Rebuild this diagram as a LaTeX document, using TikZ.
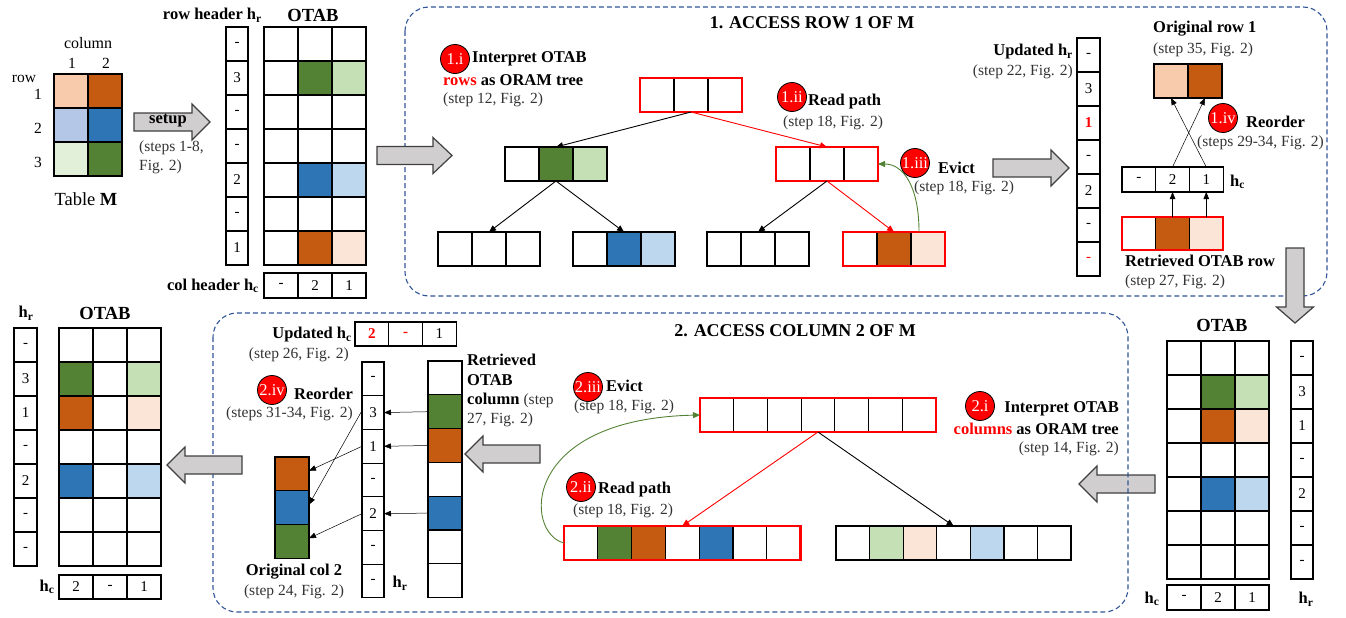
\documentclass[tikz,border=0pt]{standalone}
\usepackage{fontspec}
\setmainfont{Liberation Serif}
\usetikzlibrary{arrows.meta}
\definecolor{cOr}{HTML}{C55A11}
\definecolor{cPe}{HTML}{F8CBAD}
\definecolor{cPl}{HTML}{FBE5D6}
\definecolor{cBl}{HTML}{2E75B6}
\definecolor{cBm}{HTML}{B4C7E7}
\definecolor{cBs}{HTML}{BDD7EE}
\definecolor{cGr}{HTML}{548235}
\definecolor{cGl}{HTML}{C5E0B4}
\definecolor{cGv}{HTML}{E2F0D9}
\definecolor{cArr}{HTML}{D0CECE}
\definecolor{cDash}{HTML}{2F5597}
\definecolor{cRed}{HTML}{FF0000}
\newcommand\fsR{\fontsize{15.5}{18}\selectfont}
\newcommand\fsB{\fontsize{16.5}{19}\selectfont\bfseries}
\newcommand\fsT{\fontsize{18}{20}\selectfont\bfseries}
\newcommand\fsN{\fontsize{15}{15}\selectfont}
\tikzset{
  cell/.style={draw=black, line width=1.1pt, inner sep=0pt, outer sep=0pt, anchor=north west},
  nframe/.style={draw=black, line width=2.5pt, fill=none, inner sep=0pt, outer sep=0pt, anchor=north west},
  rnframe/.style={nframe, draw=cRed},
  badge/.style={circle, fill=cRed, draw=black, line width=0.8pt, minimum size=29pt, inner sep=0pt, text=white, font=\fontsize{16.5}{16.5}\selectfont},
  txt/.style={font=\fsR, inner sep=0pt, text=black!80},
  btxt/.style={font=\fsB, inner sep=0pt},
  ttl/.style={font=\fsT, inner sep=0pt},
  conn/.style={-{Triangle[length=7pt,width=6pt]}, line width=0.9pt},
  tarr/.style={-{Triangle[length=7pt,width=5.5pt]}, line width=0.5pt},
  gArrow/.style={draw=black!75, fill=cArr, line width=1.2pt, line join=miter},
  dbox/.style={draw=cDash, dash pattern=on 5pt off 3pt, line width=1.1pt, rounded corners=24pt},
}
\newcommand\hcells[6]{%
  \foreach \ff [count=\ii] in {#6} {%
    \node[cell, fill=\ff, minimum width=#4pt, minimum height=#5pt] (#1-\ii) at ({#2+(\ii-1)*#4},#3) {};
  }%
}
\newcommand\vcolfill[6]{%
  \foreach \ff [count=\ii] in {#6} {%
    \node[cell, fill=\ff, minimum width=#4pt, minimum height=#5pt] (#1-\ii) at (#2,{#3+(\ii-1)*#5}) {};
  }%
}
\newcommand\hrowbox[8]{%
  \hcells{#1}{#2}{#3}{#4}{#5}{#7}%
  \node[#8, minimum width={#6*#4*1pt}, minimum height=#5pt] (#1) at (#2,#3) {};
}
\newcommand\htext[6]{%
  \foreach \vv [count=\ii] in {#6} {%
    \node[cell, fill=white, font=\fsN, minimum width=#4pt, minimum height=#5pt] (#1-\ii) at ({#2+(\ii-1)*#4},#3) {\vv};
  }%
}
\newcommand\vtext[6]{%
  \foreach \vv [count=\ii] in {#6} {%
    \node[cell, fill=white, font=\fsN, minimum width=#4pt, minimum height=#5pt] (#1-\ii) at (#2,{#3+(\ii-1)*#5}) {\vv};
  }%
}
\newcommand\otab[4]{%
  \foreach \qa/\qb/\qc [count=\rr] in {#4} {%
    \node[cell, fill=\qa, minimum size=34pt] (#1-\rr-1) at (#2,{#3+(\rr-1)*34}) {};
    \node[cell, fill=\qb, minimum size=34pt] (#1-\rr-2) at ({#2+34},{#3+(\rr-1)*34}) {};
    \node[cell, fill=\qc, minimum size=34pt] (#1-\rr-3) at ({#2+68},{#3+(\rr-1)*34}) {};
  }%
}
\newcommand\garrH[4]{\draw[gArrow] (#1,{#4-9}) -- (#2,{#4-9}) -- (#2,{#4-18}) -- (#3,#4) -- (#2,{#4+18}) -- (#2,{#4+9}) -- (#1,{#4+9}) -- cycle;}
\newcommand\garrV[4]{\draw[gArrow] ({#1-9},#2) -- ({#1-9},#3) -- ({#1-18.5},#3) -- (#1,#4) -- ({#1+18.5},#3) -- ({#1+9},#3) -- ({#1+9},#2) -- cycle;}

\begin{document}
\begin{tikzpicture}[x=1pt,y=-1pt]
\useasboundingbox (0,0) rectangle (1346,618);

% ---------- Table M ----------
\node[txt, text=black, font=\fontsize{16}{18}\selectfont] (colLab) at (88,43) {column};
\node[txt, text=black] (cn1) at (72,63) {1};
\node[txt, text=black] (cn2) at (106,63) {2};
\node[txt, text=black] (rowLab) at (24,79) {row};
\node[txt, text=black] (rn1) at (38,94) {1};
\node[txt, text=black] (rn2) at (38,128) {2};
\node[txt, text=black] (rn3) at (38,162) {3};
\hcells{tmA}{54}{74}{34}{34}{cPe,cOr}
\hcells{tmB}{54}{108}{34}{34}{cBm,cBl}
\hcells{tmC}{54}{142}{34}{34}{cGv,cGr}
\node[txt, text=black, font=\fontsize{18.5}{20}\selectfont] (tabM) at (86,199) {Table \textbf{M}};

% setup arrow
\garrH{134}{192}{210}{122}
\node[btxt] (setupL) at (168,121) {setup};
\node[txt, anchor=west] (setupS1) at (139,148) {(steps 1-8,};
\node[txt, anchor=west] (setupS2) at (139,167) {Fig. 2)};

% ---------- initial OTAB ----------
\node[btxt, anchor=east] (rhLab) at (262,15) {row header h\textsubscript{r}};
\node[ttl, font=\fontsize{18.5}{20}\selectfont\bfseries] (otabA) at (313,15) {OTAB};
\vtext{hrA}{226}{27}{22}{34}{-,3,-,-,2,-,1}
\otab{otA}{264}{27}{white/white/white, white/cGr/cGl, white/white/white, white/white/white, white/cBl/cBs, white/white/white, white/cOr/cPl}
\htext{hcA}{264}{273}{34}{25}{-,2,1}
\node[btxt, anchor=east] (chLab) at (259,286) {col header h\textsubscript{c}};

% ---------- Box 1 ----------
\draw[dbox] (405,7) rectangle (1327,296);
\node[ttl] (title1) at (812,23) {1. ACCESS ROW 1 OF M};
\garrH{377}{433}{452}{155.5}

\hrowbox{tR}{640}{78}{34}{34}{3}{white,white,white}{rnframe}
\hrowbox{tL}{505}{147}{34}{34}{3}{white,cGr,cGl}{nframe}
\hrowbox{tRt}{776}{147}{34}{34}{3}{white,white,white}{rnframe}
\hrowbox{tLL}{438}{232}{34}{34}{3}{white,white,white}{nframe}
\hrowbox{tLR}{573}{232}{34}{34}{3}{white,cBl,cBs}{nframe}
\hrowbox{tRL}{707}{232}{34}{34}{3}{white,white,white}{nframe}
\hrowbox{tRR}{843}{232}{34}{34}{3}{white,cOr,cPl}{rnframe}
\draw[conn] (tR.south) -- (tL.north);
\draw[conn, cRed] (tR.south) -- (tRt-2.north);
\draw[conn] (tL.south) -- (tLL.north);
\draw[conn] (tL.south) -- (tLR.north);
\draw[conn] (tRt.south) -- (tRL.north);
\draw[conn, cRed] (tRt.south) -- (tRR.north);
\draw[conn, cGr] ([xshift=-9pt]tRR-3.north) .. controls +(0,-48) and +(24,0) .. (tRt.east);

\node[badge] (b1i) at (455,59) {1.i};
\node[btxt, anchor=west] (t1i1) at (472,59) {Interpret OTAB};
\node[btxt, anchor=west] (t1i2) at (443,80) {\textcolor{cRed}{rows} as ORAM tree};
\node[txt, anchor=west] (t1i3) at (443,100) {(step 12, Fig. 2)};

\node[badge] (b1ii) at (792,97) {1.ii};
\node[btxt, anchor=west] (t1ii1) at (808,102) {Read path};
\node[txt, anchor=west] (t1ii2) at (783,123) {(step 18, Fig. 2)};

\node[badge] (b1iii) at (915,163) {1.iii};
\node[btxt, anchor=west] (t1iii1) at (938,168) {Evict};
\node[txt, anchor=west] (t1iii2) at (914,188) {(step 18, Fig. 2)};

\garrH{993}{1051}{1069}{168}

\vtext{hrB}{1077}{38}{23}{34}{-,3,{\textcolor{cRed}{\textbf{1}}},-,2,-,{\textcolor{cRed}{-}}}
\node[btxt, anchor=east] (uhrL) at (1073,52) {Updated h\textsubscript{r}};
\node[txt, anchor=east] (uhrS) at (1073,72) {(step 22, Fig. 2)};

\node[btxt, anchor=west] (origL) at (1153,29) {Original row 1};
\node[txt, anchor=west] (origS) at (1153,50) {(step 35, Fig. 2)};
\hcells{orig}{1154}{64}{34}{34}{cPe,cOr}
\node[badge] (b1iv) at (1223,118) {1.iv};
\node[btxt, anchor=west] (t1iv1) at (1246,122) {Reorder};
\node[txt, anchor=west] (t1iv2) at (1197,143) {(steps 29-34, Fig. 2)};
\htext{hcB}{1122}{167}{33.7}{25}{-,2,1}
\node[btxt, anchor=west] (hcBL) at (1230,182) {h\textsubscript{c}};
\hrowbox{ret}{1122}{217}{33.7}{33}{3}{white,cOr,cPl}{rnframe}
\node[btxt, anchor=west] (retL) at (1125,261) {Retrieved OTAB row};
\node[txt, anchor=west] (retS) at (1125,282) {(step 27, Fig. 2)};
\draw[tarr] (ret-2.north) -- (hcB-2.south);
\draw[tarr] (ret-3.north) -- (hcB-3.south);
\draw[tarr] (hcB-2.north) -- (orig-2.south);
\draw[tarr] (hcB-3.north) -- (orig-1.south);

\garrV{1295}{248}{307}{323}

% ---------- bottom right OTAB ----------
\node[ttl, font=\fontsize{18.5}{20}\selectfont\bfseries] (otabC) at (1222,325) {OTAB};
\otab{otC}{1167}{341}{white/white/white, white/cGr/cGl, white/cOr/cPl, white/white/white, white/cBl/cBs, white/white/white, white/white/white}
\vtext{hrC}{1291}{341}{22}{34}{-,3,1,-,2,-,-}
\htext{hcC}{1167}{585}{34}{25}{-,2,1}
\node[btxt] (hcCL) at (1152,599) {h\textsubscript{c}};
\node[btxt] (hrCL) at (1306,599) {h\textsubscript{r}};
\garrH{1155}{1097}{1079}{484}

% ---------- Box 2 ----------
\draw[dbox] (213,313) rectangle (1128,612);
\node[ttl] (title2) at (795,331) {2. ACCESS COLUMN 2 OF M};

\node[badge] (b2i) at (980,406) {2.i};
\node[btxt, anchor=east] (t2i1) at (1119,409) {Interpret OTAB};
\node[btxt, anchor=east] (t2i2) at (1119,429) {\textcolor{cRed}{columns} as ORAM tree};
\node[txt, anchor=east] (t2i3) at (1119,449) {(step 14, Fig. 2)};

\hrowbox{uR}{700}{398}{33.7}{34}{7}{white,white,white,white,white,white,white}{rnframe}
\hrowbox{uP}{564}{526}{33.8}{34}{7}{white,cGr,cOr,white,cBl,white,white}{rnframe}
\hrowbox{uL}{836}{526}{33.6}{34}{7}{white,cGl,cPl,white,cBs,white,white}{nframe}
\draw[conn, cRed] (uR.south) -- (uP-4.north);
\draw[conn] (uR.south) -- (uL-4.north);
\draw[conn, cGr] (uP.west) .. controls +(-40,-10) and +(-180,4) .. (uR.west);

\node[badge] (b2iii) at (588,387) {2.iii};
\node[btxt, anchor=west] (t2iii1) at (606,386) {Evict};
\node[txt, anchor=west] (t2iii2) at (574,407) {(step 18, Fig. 2)};
\node[badge] (b2ii) at (581,487) {2.ii};
\node[btxt, anchor=west] (t2ii1) at (598,490) {Read path};
\node[txt, anchor=west] (t2ii2) at (573,511) {(step 18, Fig. 2)};

\garrH{540}{483}{465}{454}

\vcolfill{rc}{428}{361}{34}{33.8}{white,cGr,cOr,white,cBl,white,white}
\node[btxt, anchor=west] (rcL1) at (467,360) {Retrieved};
\node[btxt, anchor=west] (rcL2) at (467,380) {OTAB};
\node[btxt, anchor=west] (rcL3) at (467,400) {column {\fsR\mdseries\color{black!80}(step}};
\node[txt, anchor=west] (rcL4) at (467,420) {27, Fig. 2)};

\vtext{hrD}{362}{362}{22}{33.7}{-,3,1,-,2,-,-}
\node[btxt] (hrDL) at (400,583) {h\textsubscript{r}};
\draw[tarr] (rc-2.west) -- (hrD-2.east);
\draw[tarr] (rc-3.west) -- (hrD-3.east);
\draw[tarr] (rc-5.west) -- (hrD-5.east);

\htext{hcD}{355}{322}{33.7}{24}{{\textcolor{cRed}{\textbf{2}}},{\textcolor{cRed}{\textbf{-}}},1}
\node[btxt, anchor=east] (uhcL) at (352,335) {Updated h\textsubscript{c}};
\node[txt, anchor=east] (uhcS) at (349,355) {(step 26, Fig. 2)};

\node[badge] (b2iv) at (272,390) {2.iv};
\node[btxt, anchor=west] (t2iv1) at (294,394) {Reorder};
\node[txt, anchor=west] (t2iv2) at (226,414) {(steps 31-34, Fig. 2)};

\vcolfill{oc}{275}{457}{34}{33.7}{cOr,cBl,cGr}
\node[btxt] (ocL) at (294,572) {Original col 2};
\node[txt] (ocS) at (294,592) {(step 24, Fig. 2)};
\draw[tarr] ([yshift=2pt]hrD-2.west) -- ([yshift=3pt]oc-2.east);
\draw[tarr] (hrD-3.west) -- ([yshift=3pt]oc-1.east);
\draw[tarr] (hrD-5.west) -- ([yshift=3pt]oc-3.east);

\garrH{242}{185}{167}{465}

% ---------- bottom left OTAB ----------
\node[btxt] (hrEL) at (26,313) {h\textsubscript{r}};
\node[ttl, font=\fontsize{18.5}{20}\selectfont\bfseries] (otabE) at (105,313) {OTAB};
\vtext{hrE}{14}{328}{23}{34}{-,3,1,-,2,-,-}
\otab{otE}{59}{328}{white/white/white, cGr/white/cGl, cOr/white/cPl, white/white/white, cBl/white/cBs, white/white/white, white/white/white}
\htext{hcE}{59}{575}{34}{24}{2,-,1}
\node[btxt] (hcEL) at (47,587) {h\textsubscript{c}};
\end{tikzpicture}
\end{document}
